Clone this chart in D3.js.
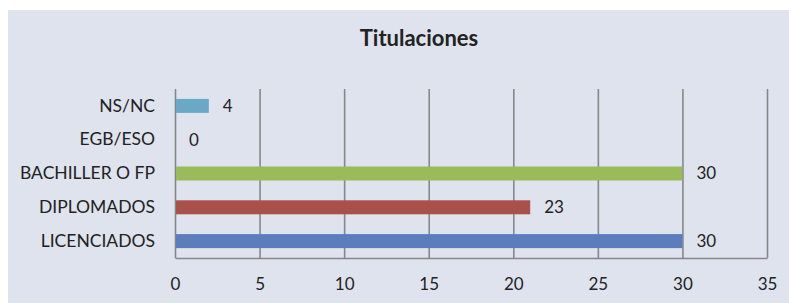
<!DOCTYPE html>
<html>
<head>
<meta charset="utf-8">
<script src="https://cdn.jsdelivr.net/npm/d3@7"></script>
<style>
  body { margin: 0; background: #fff; }
  text { font-family: Lato, "Open Sans", sans-serif; fill: #222; }
</style>
</head>
<body>
<div id="chart"></div>
<script>
// data (bars drawn to their length, labels as printed)
const categories = ["NS/NC", "EGB/ESO", "BACHILLER O FP", "DIPLOMADOS", "LICENCIADOS"];
const barValues = [2, 0, 30, 21, 30];
const valueLabels = [4, 0, 30, 23, 30];
const barColors = ["#6aa9c6", "#4f81bd", "#9bbb5b", "#a94f4c", "#5b7dbb"];
const xTicks = [0, 5, 10, 15, 20, 25, 30, 35];

const W = 789, H = 303;
const margin = { top: 89, right: 22, bottom: 45, left: 175 },
  width = W - margin.left - margin.right,
  height = H - margin.top - margin.bottom;

const root = d3.select("#chart")
  .append("svg")
    .attr("width", W)
    .attr("height", H);

// chart area background
root.append("rect")
  .attr("x", 8).attr("y", 10)
  .attr("width", W - 8).attr("height", H - 10)
  .attr("fill", "#dee3ee");

root.append("text")
  .attr("x", 419).attr("y", 46)
  .attr("text-anchor", "middle")
  .style("font-size", "22px")
  .style("font-weight", "bold")
  .text("Titulaciones");

const svg = root.append("g")
  .attr("transform", `translate(${margin.left},${margin.top})`);

const x = d3.scaleLinear()
  .domain([0, 35])
  .range([0, width]);

const y = d3.scaleBand()
  .domain(categories)
  .range([0, height])
  .paddingInner(0.586)
  .paddingOuter(0.293);

// x axis with vertical gridlines
const xAxis = svg.append("g")
  .attr("transform", `translate(0,${height})`)
  .call(d3.axisBottom(x).tickValues(xTicks).tickSize(-height).tickSizeOuter(0).tickPadding(20));
xAxis.selectAll("line").attr("stroke", "#878787").attr("stroke-width", 1.6);
xAxis.select(".domain").attr("stroke", "#878787").attr("stroke-width", 1.6);
xAxis.selectAll("text").style("font-size", "17px").style("fill", "#222");

// y axis labels
const yAxis = svg.append("g")
  .call(d3.axisLeft(y).tickSize(0).tickPadding(20));
yAxis.select(".domain").remove();
yAxis.selectAll("text").style("font-size", "17.5px").style("fill", "#222");

// bars
svg.selectAll("rect.bar")
  .data(categories)
  .enter()
  .append("rect")
    .attr("class", "bar")
    .attr("x", x(0) + 1)
    .attr("y", d => y(d))
    .attr("width", (d, i) => Math.max(0, x(barValues[i]) - x(0) - 1))
    .attr("height", y.bandwidth())
    .attr("fill", (d, i) => barColors[i]);

// value labels
svg.selectAll("text.val")
  .data(categories)
  .enter()
  .append("text")
    .attr("class", "val")
    .attr("x", (d, i) => x(barValues[i]) + 14)
    .attr("y", d => y(d) + y.bandwidth() / 2)
    .attr("dy", "0.35em")
    .style("font-size", "17px")
    .text((d, i) => valueLabels[i]);
</script>
</body>
</html>
